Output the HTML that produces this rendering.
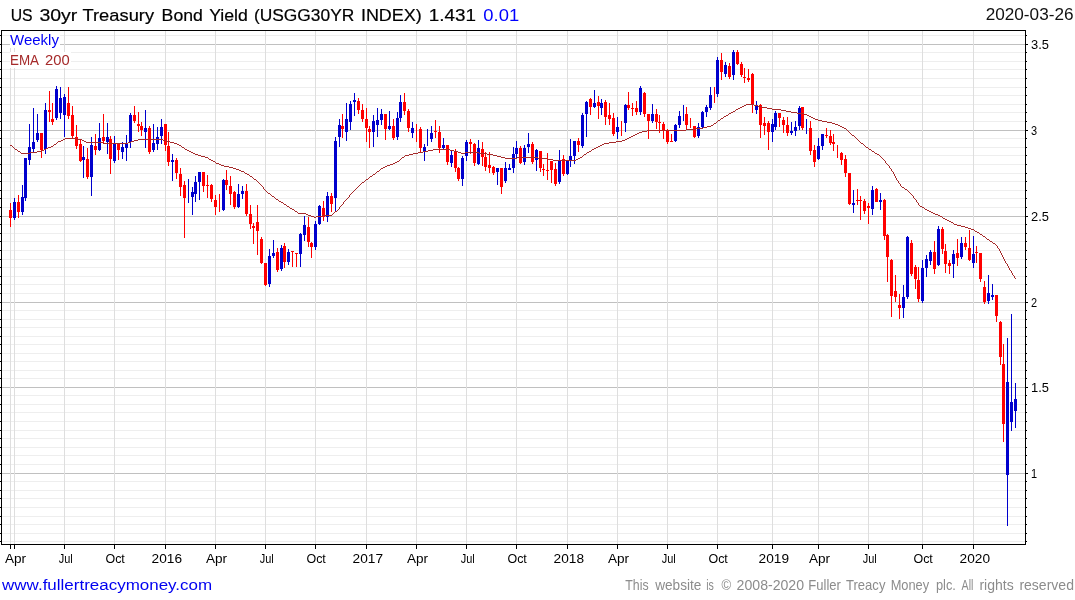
<!DOCTYPE html>
<html><head><meta charset="utf-8"><title>chart</title>
<style>
html,body{margin:0;padding:0;background:#fff;}
body{width:1075px;height:600px;position:relative;overflow:hidden;font-family:"Liberation Sans",sans-serif;}
svg{position:absolute;left:0;top:0;will-change:transform;}
svg line,svg rect{shape-rendering:crispEdges;}
svg text{font-family:"Liberation Sans",sans-serif;white-space:pre;}
</style></head><body>
<svg width="1075" height="600" viewBox="0 0 1075 600">
<line x1="2" x2="1025" y1="35.5" y2="35.5" stroke="#eeeeee" stroke-width="1"/>
<line x1="0" x2="1" y1="35.5" y2="35.5" stroke="#000" stroke-width="1"/>
<line x1="1026" x2="1027" y1="35.5" y2="35.5" stroke="#000" stroke-width="1"/>
<line x1="2" x2="1025" y1="44.5" y2="44.5" stroke="#c0c0c0" stroke-width="1"/>
<line x1="0" x2="1" y1="44.5" y2="44.5" stroke="#000" stroke-width="1"/>
<line x1="1026" x2="1028" y1="44.5" y2="44.5" stroke="#000" stroke-width="1"/>
<line x1="2" x2="1025" y1="52.5" y2="52.5" stroke="#eeeeee" stroke-width="1"/>
<line x1="0" x2="1" y1="52.5" y2="52.5" stroke="#000" stroke-width="1"/>
<line x1="1026" x2="1027" y1="52.5" y2="52.5" stroke="#000" stroke-width="1"/>
<line x1="2" x2="1025" y1="61.5" y2="61.5" stroke="#eeeeee" stroke-width="1"/>
<line x1="0" x2="1" y1="61.5" y2="61.5" stroke="#000" stroke-width="1"/>
<line x1="1026" x2="1027" y1="61.5" y2="61.5" stroke="#000" stroke-width="1"/>
<line x1="2" x2="1025" y1="69.5" y2="69.5" stroke="#eeeeee" stroke-width="1"/>
<line x1="0" x2="1" y1="69.5" y2="69.5" stroke="#000" stroke-width="1"/>
<line x1="1026" x2="1027" y1="69.5" y2="69.5" stroke="#000" stroke-width="1"/>
<line x1="2" x2="1025" y1="78.5" y2="78.5" stroke="#eeeeee" stroke-width="1"/>
<line x1="0" x2="1" y1="78.5" y2="78.5" stroke="#000" stroke-width="1"/>
<line x1="1026" x2="1027" y1="78.5" y2="78.5" stroke="#000" stroke-width="1"/>
<line x1="2" x2="1025" y1="87.5" y2="87.5" stroke="#eeeeee" stroke-width="1"/>
<line x1="0" x2="1" y1="87.5" y2="87.5" stroke="#000" stroke-width="1"/>
<line x1="1026" x2="1027" y1="87.5" y2="87.5" stroke="#000" stroke-width="1"/>
<line x1="2" x2="1025" y1="95.5" y2="95.5" stroke="#eeeeee" stroke-width="1"/>
<line x1="0" x2="1" y1="95.5" y2="95.5" stroke="#000" stroke-width="1"/>
<line x1="1026" x2="1027" y1="95.5" y2="95.5" stroke="#000" stroke-width="1"/>
<line x1="2" x2="1025" y1="104.5" y2="104.5" stroke="#eeeeee" stroke-width="1"/>
<line x1="0" x2="1" y1="104.5" y2="104.5" stroke="#000" stroke-width="1"/>
<line x1="1026" x2="1027" y1="104.5" y2="104.5" stroke="#000" stroke-width="1"/>
<line x1="2" x2="1025" y1="112.5" y2="112.5" stroke="#eeeeee" stroke-width="1"/>
<line x1="0" x2="1" y1="112.5" y2="112.5" stroke="#000" stroke-width="1"/>
<line x1="1026" x2="1027" y1="112.5" y2="112.5" stroke="#000" stroke-width="1"/>
<line x1="2" x2="1025" y1="121.5" y2="121.5" stroke="#eeeeee" stroke-width="1"/>
<line x1="0" x2="1" y1="121.5" y2="121.5" stroke="#000" stroke-width="1"/>
<line x1="1026" x2="1027" y1="121.5" y2="121.5" stroke="#000" stroke-width="1"/>
<line x1="2" x2="1025" y1="130.5" y2="130.5" stroke="#c0c0c0" stroke-width="1"/>
<line x1="0" x2="1" y1="130.5" y2="130.5" stroke="#000" stroke-width="1"/>
<line x1="1026" x2="1028" y1="130.5" y2="130.5" stroke="#000" stroke-width="1"/>
<line x1="2" x2="1025" y1="138.5" y2="138.5" stroke="#eeeeee" stroke-width="1"/>
<line x1="0" x2="1" y1="138.5" y2="138.5" stroke="#000" stroke-width="1"/>
<line x1="1026" x2="1027" y1="138.5" y2="138.5" stroke="#000" stroke-width="1"/>
<line x1="2" x2="1025" y1="147.5" y2="147.5" stroke="#eeeeee" stroke-width="1"/>
<line x1="0" x2="1" y1="147.5" y2="147.5" stroke="#000" stroke-width="1"/>
<line x1="1026" x2="1027" y1="147.5" y2="147.5" stroke="#000" stroke-width="1"/>
<line x1="2" x2="1025" y1="155.5" y2="155.5" stroke="#eeeeee" stroke-width="1"/>
<line x1="0" x2="1" y1="155.5" y2="155.5" stroke="#000" stroke-width="1"/>
<line x1="1026" x2="1027" y1="155.5" y2="155.5" stroke="#000" stroke-width="1"/>
<line x1="2" x2="1025" y1="164.5" y2="164.5" stroke="#eeeeee" stroke-width="1"/>
<line x1="0" x2="1" y1="164.5" y2="164.5" stroke="#000" stroke-width="1"/>
<line x1="1026" x2="1027" y1="164.5" y2="164.5" stroke="#000" stroke-width="1"/>
<line x1="2" x2="1025" y1="173.5" y2="173.5" stroke="#eeeeee" stroke-width="1"/>
<line x1="0" x2="1" y1="173.5" y2="173.5" stroke="#000" stroke-width="1"/>
<line x1="1026" x2="1027" y1="173.5" y2="173.5" stroke="#000" stroke-width="1"/>
<line x1="2" x2="1025" y1="181.5" y2="181.5" stroke="#eeeeee" stroke-width="1"/>
<line x1="0" x2="1" y1="181.5" y2="181.5" stroke="#000" stroke-width="1"/>
<line x1="1026" x2="1027" y1="181.5" y2="181.5" stroke="#000" stroke-width="1"/>
<line x1="2" x2="1025" y1="190.5" y2="190.5" stroke="#eeeeee" stroke-width="1"/>
<line x1="0" x2="1" y1="190.5" y2="190.5" stroke="#000" stroke-width="1"/>
<line x1="1026" x2="1027" y1="190.5" y2="190.5" stroke="#000" stroke-width="1"/>
<line x1="2" x2="1025" y1="198.5" y2="198.5" stroke="#eeeeee" stroke-width="1"/>
<line x1="0" x2="1" y1="198.5" y2="198.5" stroke="#000" stroke-width="1"/>
<line x1="1026" x2="1027" y1="198.5" y2="198.5" stroke="#000" stroke-width="1"/>
<line x1="2" x2="1025" y1="207.5" y2="207.5" stroke="#eeeeee" stroke-width="1"/>
<line x1="0" x2="1" y1="207.5" y2="207.5" stroke="#000" stroke-width="1"/>
<line x1="1026" x2="1027" y1="207.5" y2="207.5" stroke="#000" stroke-width="1"/>
<line x1="2" x2="1025" y1="216.5" y2="216.5" stroke="#c0c0c0" stroke-width="1"/>
<line x1="0" x2="1" y1="216.5" y2="216.5" stroke="#000" stroke-width="1"/>
<line x1="1026" x2="1028" y1="216.5" y2="216.5" stroke="#000" stroke-width="1"/>
<line x1="2" x2="1025" y1="224.5" y2="224.5" stroke="#eeeeee" stroke-width="1"/>
<line x1="0" x2="1" y1="224.5" y2="224.5" stroke="#000" stroke-width="1"/>
<line x1="1026" x2="1027" y1="224.5" y2="224.5" stroke="#000" stroke-width="1"/>
<line x1="2" x2="1025" y1="233.5" y2="233.5" stroke="#eeeeee" stroke-width="1"/>
<line x1="0" x2="1" y1="233.5" y2="233.5" stroke="#000" stroke-width="1"/>
<line x1="1026" x2="1027" y1="233.5" y2="233.5" stroke="#000" stroke-width="1"/>
<line x1="2" x2="1025" y1="241.5" y2="241.5" stroke="#eeeeee" stroke-width="1"/>
<line x1="0" x2="1" y1="241.5" y2="241.5" stroke="#000" stroke-width="1"/>
<line x1="1026" x2="1027" y1="241.5" y2="241.5" stroke="#000" stroke-width="1"/>
<line x1="2" x2="1025" y1="250.5" y2="250.5" stroke="#eeeeee" stroke-width="1"/>
<line x1="0" x2="1" y1="250.5" y2="250.5" stroke="#000" stroke-width="1"/>
<line x1="1026" x2="1027" y1="250.5" y2="250.5" stroke="#000" stroke-width="1"/>
<line x1="2" x2="1025" y1="259.5" y2="259.5" stroke="#eeeeee" stroke-width="1"/>
<line x1="0" x2="1" y1="259.5" y2="259.5" stroke="#000" stroke-width="1"/>
<line x1="1026" x2="1027" y1="259.5" y2="259.5" stroke="#000" stroke-width="1"/>
<line x1="2" x2="1025" y1="267.5" y2="267.5" stroke="#eeeeee" stroke-width="1"/>
<line x1="0" x2="1" y1="267.5" y2="267.5" stroke="#000" stroke-width="1"/>
<line x1="1026" x2="1027" y1="267.5" y2="267.5" stroke="#000" stroke-width="1"/>
<line x1="2" x2="1025" y1="276.5" y2="276.5" stroke="#eeeeee" stroke-width="1"/>
<line x1="0" x2="1" y1="276.5" y2="276.5" stroke="#000" stroke-width="1"/>
<line x1="1026" x2="1027" y1="276.5" y2="276.5" stroke="#000" stroke-width="1"/>
<line x1="2" x2="1025" y1="284.5" y2="284.5" stroke="#eeeeee" stroke-width="1"/>
<line x1="0" x2="1" y1="284.5" y2="284.5" stroke="#000" stroke-width="1"/>
<line x1="1026" x2="1027" y1="284.5" y2="284.5" stroke="#000" stroke-width="1"/>
<line x1="2" x2="1025" y1="293.5" y2="293.5" stroke="#eeeeee" stroke-width="1"/>
<line x1="0" x2="1" y1="293.5" y2="293.5" stroke="#000" stroke-width="1"/>
<line x1="1026" x2="1027" y1="293.5" y2="293.5" stroke="#000" stroke-width="1"/>
<line x1="2" x2="1025" y1="302.5" y2="302.5" stroke="#c0c0c0" stroke-width="1"/>
<line x1="0" x2="1" y1="302.5" y2="302.5" stroke="#000" stroke-width="1"/>
<line x1="1026" x2="1028" y1="302.5" y2="302.5" stroke="#000" stroke-width="1"/>
<line x1="2" x2="1025" y1="310.5" y2="310.5" stroke="#eeeeee" stroke-width="1"/>
<line x1="0" x2="1" y1="310.5" y2="310.5" stroke="#000" stroke-width="1"/>
<line x1="1026" x2="1027" y1="310.5" y2="310.5" stroke="#000" stroke-width="1"/>
<line x1="2" x2="1025" y1="319.5" y2="319.5" stroke="#eeeeee" stroke-width="1"/>
<line x1="0" x2="1" y1="319.5" y2="319.5" stroke="#000" stroke-width="1"/>
<line x1="1026" x2="1027" y1="319.5" y2="319.5" stroke="#000" stroke-width="1"/>
<line x1="2" x2="1025" y1="327.5" y2="327.5" stroke="#eeeeee" stroke-width="1"/>
<line x1="0" x2="1" y1="327.5" y2="327.5" stroke="#000" stroke-width="1"/>
<line x1="1026" x2="1027" y1="327.5" y2="327.5" stroke="#000" stroke-width="1"/>
<line x1="2" x2="1025" y1="336.5" y2="336.5" stroke="#eeeeee" stroke-width="1"/>
<line x1="0" x2="1" y1="336.5" y2="336.5" stroke="#000" stroke-width="1"/>
<line x1="1026" x2="1027" y1="336.5" y2="336.5" stroke="#000" stroke-width="1"/>
<line x1="2" x2="1025" y1="344.5" y2="344.5" stroke="#eeeeee" stroke-width="1"/>
<line x1="0" x2="1" y1="344.5" y2="344.5" stroke="#000" stroke-width="1"/>
<line x1="1026" x2="1027" y1="344.5" y2="344.5" stroke="#000" stroke-width="1"/>
<line x1="2" x2="1025" y1="353.5" y2="353.5" stroke="#eeeeee" stroke-width="1"/>
<line x1="0" x2="1" y1="353.5" y2="353.5" stroke="#000" stroke-width="1"/>
<line x1="1026" x2="1027" y1="353.5" y2="353.5" stroke="#000" stroke-width="1"/>
<line x1="2" x2="1025" y1="361.5" y2="361.5" stroke="#eeeeee" stroke-width="1"/>
<line x1="0" x2="1" y1="361.5" y2="361.5" stroke="#000" stroke-width="1"/>
<line x1="1026" x2="1027" y1="361.5" y2="361.5" stroke="#000" stroke-width="1"/>
<line x1="2" x2="1025" y1="370.5" y2="370.5" stroke="#eeeeee" stroke-width="1"/>
<line x1="0" x2="1" y1="370.5" y2="370.5" stroke="#000" stroke-width="1"/>
<line x1="1026" x2="1027" y1="370.5" y2="370.5" stroke="#000" stroke-width="1"/>
<line x1="2" x2="1025" y1="378.5" y2="378.5" stroke="#eeeeee" stroke-width="1"/>
<line x1="0" x2="1" y1="378.5" y2="378.5" stroke="#000" stroke-width="1"/>
<line x1="1026" x2="1027" y1="378.5" y2="378.5" stroke="#000" stroke-width="1"/>
<line x1="2" x2="1025" y1="387.5" y2="387.5" stroke="#c0c0c0" stroke-width="1"/>
<line x1="0" x2="1" y1="387.5" y2="387.5" stroke="#000" stroke-width="1"/>
<line x1="1026" x2="1028" y1="387.5" y2="387.5" stroke="#000" stroke-width="1"/>
<line x1="2" x2="1025" y1="395.5" y2="395.5" stroke="#eeeeee" stroke-width="1"/>
<line x1="0" x2="1" y1="395.5" y2="395.5" stroke="#000" stroke-width="1"/>
<line x1="1026" x2="1027" y1="395.5" y2="395.5" stroke="#000" stroke-width="1"/>
<line x1="2" x2="1025" y1="404.5" y2="404.5" stroke="#eeeeee" stroke-width="1"/>
<line x1="0" x2="1" y1="404.5" y2="404.5" stroke="#000" stroke-width="1"/>
<line x1="1026" x2="1027" y1="404.5" y2="404.5" stroke="#000" stroke-width="1"/>
<line x1="2" x2="1025" y1="412.5" y2="412.5" stroke="#eeeeee" stroke-width="1"/>
<line x1="0" x2="1" y1="412.5" y2="412.5" stroke="#000" stroke-width="1"/>
<line x1="1026" x2="1027" y1="412.5" y2="412.5" stroke="#000" stroke-width="1"/>
<line x1="2" x2="1025" y1="421.5" y2="421.5" stroke="#eeeeee" stroke-width="1"/>
<line x1="0" x2="1" y1="421.5" y2="421.5" stroke="#000" stroke-width="1"/>
<line x1="1026" x2="1027" y1="421.5" y2="421.5" stroke="#000" stroke-width="1"/>
<line x1="2" x2="1025" y1="430.5" y2="430.5" stroke="#eeeeee" stroke-width="1"/>
<line x1="0" x2="1" y1="430.5" y2="430.5" stroke="#000" stroke-width="1"/>
<line x1="1026" x2="1027" y1="430.5" y2="430.5" stroke="#000" stroke-width="1"/>
<line x1="2" x2="1025" y1="438.5" y2="438.5" stroke="#eeeeee" stroke-width="1"/>
<line x1="0" x2="1" y1="438.5" y2="438.5" stroke="#000" stroke-width="1"/>
<line x1="1026" x2="1027" y1="438.5" y2="438.5" stroke="#000" stroke-width="1"/>
<line x1="2" x2="1025" y1="447.5" y2="447.5" stroke="#eeeeee" stroke-width="1"/>
<line x1="0" x2="1" y1="447.5" y2="447.5" stroke="#000" stroke-width="1"/>
<line x1="1026" x2="1027" y1="447.5" y2="447.5" stroke="#000" stroke-width="1"/>
<line x1="2" x2="1025" y1="455.5" y2="455.5" stroke="#eeeeee" stroke-width="1"/>
<line x1="0" x2="1" y1="455.5" y2="455.5" stroke="#000" stroke-width="1"/>
<line x1="1026" x2="1027" y1="455.5" y2="455.5" stroke="#000" stroke-width="1"/>
<line x1="2" x2="1025" y1="464.5" y2="464.5" stroke="#eeeeee" stroke-width="1"/>
<line x1="0" x2="1" y1="464.5" y2="464.5" stroke="#000" stroke-width="1"/>
<line x1="1026" x2="1027" y1="464.5" y2="464.5" stroke="#000" stroke-width="1"/>
<line x1="2" x2="1025" y1="473.5" y2="473.5" stroke="#c0c0c0" stroke-width="1"/>
<line x1="0" x2="1" y1="473.5" y2="473.5" stroke="#000" stroke-width="1"/>
<line x1="1026" x2="1028" y1="473.5" y2="473.5" stroke="#000" stroke-width="1"/>
<line x1="2" x2="1025" y1="481.5" y2="481.5" stroke="#eeeeee" stroke-width="1"/>
<line x1="0" x2="1" y1="481.5" y2="481.5" stroke="#000" stroke-width="1"/>
<line x1="1026" x2="1027" y1="481.5" y2="481.5" stroke="#000" stroke-width="1"/>
<line x1="2" x2="1025" y1="490.5" y2="490.5" stroke="#eeeeee" stroke-width="1"/>
<line x1="0" x2="1" y1="490.5" y2="490.5" stroke="#000" stroke-width="1"/>
<line x1="1026" x2="1027" y1="490.5" y2="490.5" stroke="#000" stroke-width="1"/>
<line x1="2" x2="1025" y1="498.5" y2="498.5" stroke="#eeeeee" stroke-width="1"/>
<line x1="0" x2="1" y1="498.5" y2="498.5" stroke="#000" stroke-width="1"/>
<line x1="1026" x2="1027" y1="498.5" y2="498.5" stroke="#000" stroke-width="1"/>
<line x1="2" x2="1025" y1="507.5" y2="507.5" stroke="#eeeeee" stroke-width="1"/>
<line x1="0" x2="1" y1="507.5" y2="507.5" stroke="#000" stroke-width="1"/>
<line x1="1026" x2="1027" y1="507.5" y2="507.5" stroke="#000" stroke-width="1"/>
<line x1="2" x2="1025" y1="516.5" y2="516.5" stroke="#eeeeee" stroke-width="1"/>
<line x1="0" x2="1" y1="516.5" y2="516.5" stroke="#000" stroke-width="1"/>
<line x1="1026" x2="1027" y1="516.5" y2="516.5" stroke="#000" stroke-width="1"/>
<line x1="2" x2="1025" y1="524.5" y2="524.5" stroke="#eeeeee" stroke-width="1"/>
<line x1="0" x2="1" y1="524.5" y2="524.5" stroke="#000" stroke-width="1"/>
<line x1="1026" x2="1027" y1="524.5" y2="524.5" stroke="#000" stroke-width="1"/>
<line x1="2" x2="1025" y1="533.5" y2="533.5" stroke="#eeeeee" stroke-width="1"/>
<line x1="0" x2="1" y1="533.5" y2="533.5" stroke="#000" stroke-width="1"/>
<line x1="1026" x2="1027" y1="533.5" y2="533.5" stroke="#000" stroke-width="1"/>
<line x1="2" x2="1025" y1="541.5" y2="541.5" stroke="#eeeeee" stroke-width="1"/>
<line x1="0" x2="1" y1="541.5" y2="541.5" stroke="#000" stroke-width="1"/>
<line x1="1026" x2="1027" y1="541.5" y2="541.5" stroke="#000" stroke-width="1"/>
<line x1="10.5" x2="10.5" y1="31" y2="544" stroke="#dedede" stroke-width="1"/>
<line x1="10.5" x2="10.5" y1="544" y2="549" stroke="#000" stroke-width="1"/>
<line x1="14.5" x2="14.5" y1="31" y2="544" stroke="#dedede" stroke-width="1"/>
<line x1="14.5" x2="14.5" y1="544" y2="549" stroke="#000" stroke-width="1"/>
<line x1="64.5" x2="64.5" y1="31" y2="544" stroke="#dedede" stroke-width="1"/>
<line x1="64.5" x2="64.5" y1="544" y2="549" stroke="#000" stroke-width="1"/>
<line x1="114.5" x2="114.5" y1="31" y2="544" stroke="#dedede" stroke-width="1"/>
<line x1="114.5" x2="114.5" y1="544" y2="549" stroke="#000" stroke-width="1"/>
<line x1="165.5" x2="165.5" y1="31" y2="544" stroke="#dedede" stroke-width="1"/>
<line x1="165.5" x2="165.5" y1="544" y2="549" stroke="#000" stroke-width="1"/>
<line x1="215.5" x2="215.5" y1="31" y2="544" stroke="#dedede" stroke-width="1"/>
<line x1="215.5" x2="215.5" y1="544" y2="549" stroke="#000" stroke-width="1"/>
<line x1="265.5" x2="265.5" y1="31" y2="544" stroke="#dedede" stroke-width="1"/>
<line x1="265.5" x2="265.5" y1="544" y2="549" stroke="#000" stroke-width="1"/>
<line x1="315.5" x2="315.5" y1="31" y2="544" stroke="#dedede" stroke-width="1"/>
<line x1="315.5" x2="315.5" y1="544" y2="549" stroke="#000" stroke-width="1"/>
<line x1="366.5" x2="366.5" y1="31" y2="544" stroke="#dedede" stroke-width="1"/>
<line x1="366.5" x2="366.5" y1="544" y2="549" stroke="#000" stroke-width="1"/>
<line x1="416.5" x2="416.5" y1="31" y2="544" stroke="#dedede" stroke-width="1"/>
<line x1="416.5" x2="416.5" y1="544" y2="549" stroke="#000" stroke-width="1"/>
<line x1="466.5" x2="466.5" y1="31" y2="544" stroke="#dedede" stroke-width="1"/>
<line x1="466.5" x2="466.5" y1="544" y2="549" stroke="#000" stroke-width="1"/>
<line x1="516.5" x2="516.5" y1="31" y2="544" stroke="#dedede" stroke-width="1"/>
<line x1="516.5" x2="516.5" y1="544" y2="549" stroke="#000" stroke-width="1"/>
<line x1="567.5" x2="567.5" y1="31" y2="544" stroke="#dedede" stroke-width="1"/>
<line x1="567.5" x2="567.5" y1="544" y2="549" stroke="#000" stroke-width="1"/>
<line x1="617.5" x2="617.5" y1="31" y2="544" stroke="#dedede" stroke-width="1"/>
<line x1="617.5" x2="617.5" y1="544" y2="549" stroke="#000" stroke-width="1"/>
<line x1="667.5" x2="667.5" y1="31" y2="544" stroke="#dedede" stroke-width="1"/>
<line x1="667.5" x2="667.5" y1="544" y2="549" stroke="#000" stroke-width="1"/>
<line x1="717.5" x2="717.5" y1="31" y2="544" stroke="#dedede" stroke-width="1"/>
<line x1="717.5" x2="717.5" y1="544" y2="549" stroke="#000" stroke-width="1"/>
<line x1="772.5" x2="772.5" y1="31" y2="544" stroke="#dedede" stroke-width="1"/>
<line x1="772.5" x2="772.5" y1="544" y2="549" stroke="#000" stroke-width="1"/>
<line x1="818.5" x2="818.5" y1="31" y2="544" stroke="#dedede" stroke-width="1"/>
<line x1="818.5" x2="818.5" y1="544" y2="549" stroke="#000" stroke-width="1"/>
<line x1="868.5" x2="868.5" y1="31" y2="544" stroke="#dedede" stroke-width="1"/>
<line x1="868.5" x2="868.5" y1="544" y2="549" stroke="#000" stroke-width="1"/>
<line x1="922.5" x2="922.5" y1="31" y2="544" stroke="#dedede" stroke-width="1"/>
<line x1="922.5" x2="922.5" y1="544" y2="549" stroke="#000" stroke-width="1"/>
<line x1="973.5" x2="973.5" y1="31" y2="544" stroke="#dedede" stroke-width="1"/>
<line x1="973.5" x2="973.5" y1="544" y2="549" stroke="#000" stroke-width="1"/>
<rect x="10" y="203" width="1" height="24" fill="#ff0000"/>
<rect x="9" y="210" width="3" height="8" fill="#ff0000"/>
<rect x="14" y="198" width="1" height="22" fill="#0000cd"/>
<rect x="13" y="202" width="3" height="16" fill="#0000cd"/>
<rect x="18" y="195" width="1" height="23" fill="#ff0000"/>
<rect x="17" y="202" width="3" height="10" fill="#ff0000"/>
<rect x="22" y="185" width="1" height="30" fill="#0000cd"/>
<rect x="21" y="197" width="3" height="15" fill="#0000cd"/>
<rect x="25" y="158" width="1" height="43" fill="#0000cd"/>
<rect x="24" y="158" width="3" height="40" fill="#0000cd"/>
<rect x="29" y="124" width="1" height="41" fill="#0000cd"/>
<rect x="28" y="147" width="3" height="13" fill="#0000cd"/>
<rect x="33" y="108" width="1" height="44" fill="#0000cd"/>
<rect x="32" y="142" width="3" height="7" fill="#0000cd"/>
<rect x="37" y="114" width="1" height="28" fill="#0000cd"/>
<rect x="36" y="133" width="3" height="7" fill="#0000cd"/>
<rect x="41" y="133" width="1" height="25" fill="#ff0000"/>
<rect x="40" y="133" width="3" height="17" fill="#ff0000"/>
<rect x="45" y="103" width="1" height="51" fill="#0000cd"/>
<rect x="44" y="110" width="3" height="39" fill="#0000cd"/>
<rect x="49" y="91" width="1" height="31" fill="#ff0000"/>
<rect x="48" y="110" width="3" height="2" fill="#ff0000"/>
<rect x="52" y="103" width="1" height="22" fill="#ff0000"/>
<rect x="51" y="119" width="3" height="3" fill="#ff0000"/>
<rect x="56" y="86" width="1" height="34" fill="#0000cd"/>
<rect x="55" y="89" width="3" height="29" fill="#0000cd"/>
<rect x="60" y="87" width="1" height="32" fill="#0000cd"/>
<rect x="59" y="98" width="3" height="15" fill="#0000cd"/>
<rect x="64" y="94" width="1" height="43" fill="#0000cd"/>
<rect x="63" y="97" width="3" height="18" fill="#0000cd"/>
<rect x="68" y="87" width="1" height="32" fill="#ff0000"/>
<rect x="67" y="103" width="3" height="13" fill="#ff0000"/>
<rect x="72" y="106" width="1" height="33" fill="#ff0000"/>
<rect x="71" y="115" width="3" height="21" fill="#ff0000"/>
<rect x="76" y="125" width="1" height="24" fill="#ff0000"/>
<rect x="75" y="137" width="3" height="9" fill="#ff0000"/>
<rect x="80" y="139" width="1" height="23" fill="#ff0000"/>
<rect x="79" y="144" width="3" height="17" fill="#ff0000"/>
<rect x="83" y="146" width="1" height="32" fill="#0000cd"/>
<rect x="82" y="157" width="3" height="3" fill="#0000cd"/>
<rect x="87" y="148" width="1" height="31" fill="#ff0000"/>
<rect x="86" y="159" width="3" height="18" fill="#ff0000"/>
<rect x="91" y="137" width="1" height="59" fill="#0000cd"/>
<rect x="90" y="145" width="3" height="32" fill="#0000cd"/>
<rect x="95" y="134" width="1" height="21" fill="#ff0000"/>
<rect x="94" y="146" width="3" height="4" fill="#ff0000"/>
<rect x="99" y="123" width="1" height="28" fill="#0000cd"/>
<rect x="98" y="138" width="3" height="12" fill="#0000cd"/>
<rect x="103" y="114" width="1" height="30" fill="#ff0000"/>
<rect x="102" y="137" width="3" height="4" fill="#ff0000"/>
<rect x="107" y="123" width="1" height="31" fill="#0000cd"/>
<rect x="106" y="137" width="3" height="5" fill="#0000cd"/>
<rect x="110" y="136" width="1" height="38" fill="#ff0000"/>
<rect x="109" y="139" width="3" height="20" fill="#ff0000"/>
<rect x="114" y="136" width="1" height="27" fill="#0000cd"/>
<rect x="113" y="144" width="3" height="17" fill="#0000cd"/>
<rect x="118" y="143" width="1" height="17" fill="#ff0000"/>
<rect x="117" y="144" width="3" height="6" fill="#ff0000"/>
<rect x="122" y="142" width="1" height="17" fill="#0000cd"/>
<rect x="121" y="147" width="3" height="5" fill="#0000cd"/>
<rect x="126" y="135" width="1" height="26" fill="#0000cd"/>
<rect x="125" y="144" width="3" height="4" fill="#0000cd"/>
<rect x="130" y="113" width="1" height="35" fill="#0000cd"/>
<rect x="129" y="115" width="3" height="27" fill="#0000cd"/>
<rect x="134" y="106" width="1" height="17" fill="#ff0000"/>
<rect x="133" y="115" width="3" height="6" fill="#ff0000"/>
<rect x="138" y="112" width="1" height="20" fill="#ff0000"/>
<rect x="137" y="124" width="3" height="2" fill="#ff0000"/>
<rect x="141" y="122" width="1" height="14" fill="#ff0000"/>
<rect x="140" y="126" width="3" height="4" fill="#ff0000"/>
<rect x="145" y="110" width="1" height="38" fill="#0000cd"/>
<rect x="144" y="128" width="3" height="4" fill="#0000cd"/>
<rect x="149" y="126" width="1" height="28" fill="#ff0000"/>
<rect x="148" y="128" width="3" height="24" fill="#ff0000"/>
<rect x="153" y="124" width="1" height="28" fill="#0000cd"/>
<rect x="152" y="143" width="3" height="7" fill="#0000cd"/>
<rect x="157" y="127" width="1" height="23" fill="#0000cd"/>
<rect x="156" y="137" width="3" height="7" fill="#0000cd"/>
<rect x="161" y="119" width="1" height="25" fill="#0000cd"/>
<rect x="160" y="127" width="3" height="9" fill="#0000cd"/>
<rect x="165" y="124" width="1" height="27" fill="#ff0000"/>
<rect x="164" y="124" width="3" height="21" fill="#ff0000"/>
<rect x="168" y="132" width="1" height="34" fill="#ff0000"/>
<rect x="167" y="146" width="3" height="16" fill="#ff0000"/>
<rect x="172" y="154" width="1" height="27" fill="#0000cd"/>
<rect x="171" y="160" width="3" height="2" fill="#0000cd"/>
<rect x="176" y="158" width="1" height="21" fill="#ff0000"/>
<rect x="175" y="160" width="3" height="13" fill="#ff0000"/>
<rect x="180" y="168" width="1" height="28" fill="#ff0000"/>
<rect x="179" y="174" width="3" height="13" fill="#ff0000"/>
<rect x="184" y="181" width="1" height="57" fill="#ff0000"/>
<rect x="183" y="185" width="3" height="13" fill="#ff0000"/>
<rect x="188" y="179" width="1" height="24" fill="#0000cd"/>
<rect x="192" y="187" width="1" height="28" fill="#0000cd"/>
<rect x="191" y="192" width="3" height="5" fill="#0000cd"/>
<rect x="195" y="176" width="1" height="26" fill="#0000cd"/>
<rect x="194" y="182" width="3" height="12" fill="#0000cd"/>
<rect x="199" y="172" width="1" height="28" fill="#0000cd"/>
<rect x="198" y="172" width="3" height="10" fill="#0000cd"/>
<rect x="203" y="172" width="1" height="20" fill="#ff0000"/>
<rect x="202" y="172" width="3" height="14" fill="#ff0000"/>
<rect x="207" y="175" width="1" height="23" fill="#ff0000"/>
<rect x="206" y="185" width="3" height="1" fill="#ff0000"/>
<rect x="211" y="184" width="1" height="18" fill="#ff0000"/>
<rect x="210" y="185" width="3" height="14" fill="#ff0000"/>
<rect x="215" y="195" width="1" height="20" fill="#ff0000"/>
<rect x="214" y="200" width="3" height="7" fill="#ff0000"/>
<rect x="219" y="194" width="1" height="18" fill="#ff0000"/>
<rect x="223" y="179" width="1" height="32" fill="#0000cd"/>
<rect x="222" y="180" width="3" height="30" fill="#0000cd"/>
<rect x="226" y="170" width="1" height="20" fill="#ff0000"/>
<rect x="225" y="180" width="3" height="5" fill="#ff0000"/>
<rect x="230" y="176" width="1" height="29" fill="#ff0000"/>
<rect x="229" y="186" width="3" height="8" fill="#ff0000"/>
<rect x="234" y="191" width="1" height="18" fill="#ff0000"/>
<rect x="233" y="192" width="3" height="15" fill="#ff0000"/>
<rect x="238" y="184" width="1" height="24" fill="#0000cd"/>
<rect x="237" y="194" width="3" height="13" fill="#0000cd"/>
<rect x="242" y="186" width="1" height="13" fill="#0000cd"/>
<rect x="241" y="191" width="3" height="3" fill="#0000cd"/>
<rect x="246" y="184" width="1" height="32" fill="#ff0000"/>
<rect x="245" y="191" width="3" height="23" fill="#ff0000"/>
<rect x="250" y="205" width="1" height="24" fill="#ff0000"/>
<rect x="249" y="214" width="3" height="10" fill="#ff0000"/>
<rect x="253" y="223" width="1" height="21" fill="#ff0000"/>
<rect x="252" y="226" width="3" height="2" fill="#ff0000"/>
<rect x="257" y="205" width="1" height="50" fill="#ff0000"/>
<rect x="256" y="222" width="3" height="9" fill="#ff0000"/>
<rect x="261" y="237" width="1" height="27" fill="#ff0000"/>
<rect x="260" y="239" width="3" height="24" fill="#ff0000"/>
<rect x="265" y="263" width="1" height="23" fill="#ff0000"/>
<rect x="264" y="263" width="3" height="22" fill="#ff0000"/>
<rect x="269" y="249" width="1" height="38" fill="#0000cd"/>
<rect x="268" y="256" width="3" height="28" fill="#0000cd"/>
<rect x="273" y="240" width="1" height="18" fill="#0000cd"/>
<rect x="272" y="253" width="3" height="3" fill="#0000cd"/>
<rect x="277" y="248" width="1" height="24" fill="#ff0000"/>
<rect x="276" y="252" width="3" height="18" fill="#ff0000"/>
<rect x="281" y="245" width="1" height="26" fill="#0000cd"/>
<rect x="280" y="248" width="3" height="21" fill="#0000cd"/>
<rect x="284" y="243" width="1" height="25" fill="#ff0000"/>
<rect x="283" y="246" width="3" height="16" fill="#ff0000"/>
<rect x="288" y="249" width="1" height="16" fill="#0000cd"/>
<rect x="287" y="252" width="3" height="10" fill="#0000cd"/>
<rect x="292" y="251" width="1" height="16" fill="#ff0000"/>
<rect x="291" y="251" width="3" height="1" fill="#ff0000"/>
<rect x="296" y="253" width="1" height="14" fill="#ff0000"/>
<rect x="295" y="253" width="3" height="1" fill="#ff0000"/>
<rect x="300" y="233" width="1" height="34" fill="#0000cd"/>
<rect x="299" y="234" width="3" height="20" fill="#0000cd"/>
<rect x="304" y="216" width="1" height="25" fill="#0000cd"/>
<rect x="303" y="225" width="3" height="10" fill="#0000cd"/>
<rect x="308" y="217" width="1" height="30" fill="#ff0000"/>
<rect x="307" y="227" width="3" height="15" fill="#ff0000"/>
<rect x="311" y="242" width="1" height="16" fill="#ff0000"/>
<rect x="310" y="243" width="3" height="4" fill="#ff0000"/>
<rect x="315" y="221" width="1" height="29" fill="#0000cd"/>
<rect x="314" y="224" width="3" height="23" fill="#0000cd"/>
<rect x="319" y="205" width="1" height="20" fill="#0000cd"/>
<rect x="318" y="206" width="3" height="18" fill="#0000cd"/>
<rect x="323" y="201" width="1" height="20" fill="#ff0000"/>
<rect x="322" y="208" width="3" height="9" fill="#ff0000"/>
<rect x="327" y="192" width="1" height="30" fill="#0000cd"/>
<rect x="326" y="196" width="3" height="21" fill="#0000cd"/>
<rect x="331" y="193" width="1" height="19" fill="#ff0000"/>
<rect x="330" y="196" width="3" height="8" fill="#ff0000"/>
<rect x="335" y="137" width="1" height="74" fill="#0000cd"/>
<rect x="334" y="141" width="3" height="57" fill="#0000cd"/>
<rect x="339" y="119" width="1" height="28" fill="#0000cd"/>
<rect x="338" y="125" width="3" height="12" fill="#0000cd"/>
<rect x="342" y="114" width="1" height="24" fill="#ff0000"/>
<rect x="341" y="126" width="3" height="3" fill="#ff0000"/>
<rect x="346" y="103" width="1" height="38" fill="#0000cd"/>
<rect x="345" y="119" width="3" height="13" fill="#0000cd"/>
<rect x="350" y="101" width="1" height="29" fill="#0000cd"/>
<rect x="349" y="104" width="3" height="18" fill="#0000cd"/>
<rect x="354" y="93" width="1" height="23" fill="#0000cd"/>
<rect x="353" y="100" width="3" height="2" fill="#0000cd"/>
<rect x="358" y="98" width="1" height="16" fill="#ff0000"/>
<rect x="357" y="101" width="3" height="9" fill="#ff0000"/>
<rect x="362" y="104" width="1" height="18" fill="#ff0000"/>
<rect x="361" y="110" width="3" height="9" fill="#ff0000"/>
<rect x="366" y="108" width="1" height="34" fill="#ff0000"/>
<rect x="365" y="119" width="3" height="9" fill="#ff0000"/>
<rect x="369" y="126" width="1" height="22" fill="#ff0000"/>
<rect x="368" y="129" width="3" height="3" fill="#ff0000"/>
<rect x="373" y="115" width="1" height="32" fill="#0000cd"/>
<rect x="372" y="121" width="3" height="11" fill="#0000cd"/>
<rect x="377" y="108" width="1" height="29" fill="#0000cd"/>
<rect x="376" y="120" width="3" height="5" fill="#0000cd"/>
<rect x="381" y="109" width="1" height="16" fill="#0000cd"/>
<rect x="380" y="114" width="3" height="6" fill="#0000cd"/>
<rect x="385" y="114" width="1" height="26" fill="#ff0000"/>
<rect x="384" y="114" width="3" height="15" fill="#ff0000"/>
<rect x="389" y="111" width="1" height="19" fill="#0000cd"/>
<rect x="388" y="126" width="3" height="3" fill="#0000cd"/>
<rect x="393" y="119" width="1" height="21" fill="#ff0000"/>
<rect x="392" y="126" width="3" height="12" fill="#ff0000"/>
<rect x="397" y="112" width="1" height="28" fill="#0000cd"/>
<rect x="396" y="118" width="3" height="19" fill="#0000cd"/>
<rect x="400" y="95" width="1" height="27" fill="#0000cd"/>
<rect x="399" y="102" width="3" height="16" fill="#0000cd"/>
<rect x="404" y="93" width="1" height="22" fill="#ff0000"/>
<rect x="403" y="102" width="3" height="9" fill="#ff0000"/>
<rect x="408" y="109" width="1" height="23" fill="#ff0000"/>
<rect x="407" y="111" width="3" height="17" fill="#ff0000"/>
<rect x="412" y="122" width="1" height="16" fill="#0000cd"/>
<rect x="411" y="128" width="3" height="5" fill="#0000cd"/>
<rect x="416" y="124" width="1" height="18" fill="#ff0000"/>
<rect x="420" y="127" width="1" height="26" fill="#ff0000"/>
<rect x="419" y="129" width="3" height="19" fill="#ff0000"/>
<rect x="424" y="144" width="1" height="17" fill="#0000cd"/>
<rect x="423" y="147" width="3" height="5" fill="#0000cd"/>
<rect x="427" y="129" width="1" height="17" fill="#0000cd"/>
<rect x="431" y="126" width="1" height="16" fill="#0000cd"/>
<rect x="430" y="133" width="3" height="6" fill="#0000cd"/>
<rect x="435" y="120" width="1" height="18" fill="#ff0000"/>
<rect x="434" y="131" width="3" height="1" fill="#ff0000"/>
<rect x="439" y="126" width="1" height="27" fill="#ff0000"/>
<rect x="438" y="132" width="3" height="16" fill="#ff0000"/>
<rect x="443" y="138" width="1" height="11" fill="#0000cd"/>
<rect x="442" y="145" width="3" height="3" fill="#0000cd"/>
<rect x="447" y="145" width="1" height="20" fill="#ff0000"/>
<rect x="446" y="145" width="3" height="17" fill="#ff0000"/>
<rect x="451" y="151" width="1" height="16" fill="#0000cd"/>
<rect x="450" y="155" width="3" height="8" fill="#0000cd"/>
<rect x="455" y="149" width="1" height="23" fill="#ff0000"/>
<rect x="454" y="152" width="3" height="16" fill="#ff0000"/>
<rect x="458" y="167" width="1" height="14" fill="#ff0000"/>
<rect x="457" y="168" width="3" height="11" fill="#ff0000"/>
<rect x="462" y="156" width="1" height="30" fill="#0000cd"/>
<rect x="461" y="158" width="3" height="21" fill="#0000cd"/>
<rect x="466" y="140" width="1" height="21" fill="#0000cd"/>
<rect x="465" y="142" width="3" height="14" fill="#0000cd"/>
<rect x="470" y="139" width="1" height="15" fill="#ff0000"/>
<rect x="469" y="142" width="3" height="2" fill="#ff0000"/>
<rect x="474" y="143" width="1" height="23" fill="#ff0000"/>
<rect x="473" y="144" width="3" height="19" fill="#ff0000"/>
<rect x="478" y="140" width="1" height="25" fill="#0000cd"/>
<rect x="477" y="148" width="3" height="16" fill="#0000cd"/>
<rect x="482" y="142" width="1" height="24" fill="#ff0000"/>
<rect x="481" y="149" width="3" height="8" fill="#ff0000"/>
<rect x="485" y="152" width="1" height="19" fill="#ff0000"/>
<rect x="484" y="157" width="3" height="10" fill="#ff0000"/>
<rect x="489" y="152" width="1" height="21" fill="#ff0000"/>
<rect x="488" y="165" width="3" height="3" fill="#ff0000"/>
<rect x="493" y="166" width="1" height="9" fill="#ff0000"/>
<rect x="492" y="167" width="3" height="6" fill="#ff0000"/>
<rect x="497" y="168" width="1" height="17" fill="#0000cd"/>
<rect x="496" y="168" width="3" height="4" fill="#0000cd"/>
<rect x="501" y="168" width="1" height="26" fill="#ff0000"/>
<rect x="500" y="168" width="3" height="19" fill="#ff0000"/>
<rect x="505" y="162" width="1" height="21" fill="#0000cd"/>
<rect x="504" y="168" width="3" height="13" fill="#0000cd"/>
<rect x="509" y="164" width="1" height="6" fill="#0000cd"/>
<rect x="508" y="168" width="3" height="2" fill="#0000cd"/>
<rect x="513" y="147" width="1" height="26" fill="#0000cd"/>
<rect x="512" y="154" width="3" height="14" fill="#0000cd"/>
<rect x="516" y="141" width="1" height="17" fill="#0000cd"/>
<rect x="515" y="148" width="3" height="6" fill="#0000cd"/>
<rect x="520" y="146" width="1" height="18" fill="#ff0000"/>
<rect x="519" y="148" width="3" height="15" fill="#ff0000"/>
<rect x="524" y="145" width="1" height="20" fill="#0000cd"/>
<rect x="523" y="148" width="3" height="14" fill="#0000cd"/>
<rect x="528" y="133" width="1" height="20" fill="#0000cd"/>
<rect x="527" y="144" width="3" height="3" fill="#0000cd"/>
<rect x="532" y="142" width="1" height="22" fill="#ff0000"/>
<rect x="531" y="144" width="3" height="18" fill="#ff0000"/>
<rect x="536" y="149" width="1" height="22" fill="#0000cd"/>
<rect x="535" y="150" width="3" height="10" fill="#0000cd"/>
<rect x="540" y="151" width="1" height="21" fill="#ff0000"/>
<rect x="539" y="151" width="3" height="17" fill="#ff0000"/>
<rect x="543" y="164" width="1" height="12" fill="#ff0000"/>
<rect x="542" y="169" width="3" height="1" fill="#ff0000"/>
<rect x="547" y="153" width="1" height="27" fill="#ff0000"/>
<rect x="546" y="170" width="3" height="1" fill="#ff0000"/>
<rect x="551" y="161" width="1" height="22" fill="#ff0000"/>
<rect x="550" y="161" width="3" height="9" fill="#ff0000"/>
<rect x="555" y="163" width="1" height="23" fill="#ff0000"/>
<rect x="554" y="169" width="3" height="15" fill="#ff0000"/>
<rect x="559" y="150" width="1" height="34" fill="#0000cd"/>
<rect x="558" y="160" width="3" height="22" fill="#0000cd"/>
<rect x="563" y="155" width="1" height="21" fill="#ff0000"/>
<rect x="562" y="159" width="3" height="15" fill="#ff0000"/>
<rect x="567" y="160" width="1" height="15" fill="#0000cd"/>
<rect x="566" y="160" width="3" height="14" fill="#0000cd"/>
<rect x="570" y="139" width="1" height="28" fill="#0000cd"/>
<rect x="569" y="156" width="3" height="5" fill="#0000cd"/>
<rect x="574" y="141" width="1" height="23" fill="#0000cd"/>
<rect x="573" y="141" width="3" height="15" fill="#0000cd"/>
<rect x="578" y="138" width="1" height="14" fill="#ff0000"/>
<rect x="577" y="141" width="3" height="4" fill="#ff0000"/>
<rect x="582" y="113" width="1" height="35" fill="#0000cd"/>
<rect x="581" y="115" width="3" height="31" fill="#0000cd"/>
<rect x="586" y="101" width="1" height="36" fill="#0000cd"/>
<rect x="585" y="102" width="3" height="12" fill="#0000cd"/>
<rect x="590" y="98" width="1" height="17" fill="#ff0000"/>
<rect x="589" y="99" width="3" height="8" fill="#ff0000"/>
<rect x="594" y="90" width="1" height="18" fill="#0000cd"/>
<rect x="593" y="103" width="3" height="4" fill="#0000cd"/>
<rect x="598" y="96" width="1" height="23" fill="#ff0000"/>
<rect x="597" y="102" width="3" height="4" fill="#ff0000"/>
<rect x="601" y="99" width="1" height="16" fill="#0000cd"/>
<rect x="600" y="103" width="3" height="5" fill="#0000cd"/>
<rect x="605" y="100" width="1" height="25" fill="#ff0000"/>
<rect x="604" y="102" width="3" height="15" fill="#ff0000"/>
<rect x="609" y="103" width="1" height="22" fill="#ff0000"/>
<rect x="608" y="115" width="3" height="4" fill="#ff0000"/>
<rect x="613" y="113" width="1" height="23" fill="#ff0000"/>
<rect x="612" y="118" width="3" height="16" fill="#ff0000"/>
<rect x="617" y="117" width="1" height="22" fill="#0000cd"/>
<rect x="616" y="127" width="3" height="5" fill="#0000cd"/>
<rect x="621" y="121" width="1" height="15" fill="#ff0000"/>
<rect x="625" y="104" width="1" height="28" fill="#0000cd"/>
<rect x="624" y="105" width="3" height="18" fill="#0000cd"/>
<rect x="628" y="92" width="1" height="18" fill="#ff0000"/>
<rect x="627" y="105" width="3" height="3" fill="#ff0000"/>
<rect x="632" y="103" width="1" height="13" fill="#ff0000"/>
<rect x="631" y="108" width="3" height="1" fill="#ff0000"/>
<rect x="636" y="101" width="1" height="14" fill="#ff0000"/>
<rect x="635" y="108" width="3" height="4" fill="#ff0000"/>
<rect x="640" y="86" width="1" height="29" fill="#0000cd"/>
<rect x="639" y="88" width="3" height="24" fill="#0000cd"/>
<rect x="644" y="92" width="1" height="25" fill="#ff0000"/>
<rect x="643" y="93" width="3" height="21" fill="#ff0000"/>
<rect x="648" y="114" width="1" height="25" fill="#ff0000"/>
<rect x="647" y="114" width="3" height="7" fill="#ff0000"/>
<rect x="652" y="104" width="1" height="19" fill="#0000cd"/>
<rect x="651" y="114" width="3" height="7" fill="#0000cd"/>
<rect x="656" y="109" width="1" height="20" fill="#ff0000"/>
<rect x="655" y="114" width="3" height="8" fill="#ff0000"/>
<rect x="659" y="115" width="1" height="18" fill="#ff0000"/>
<rect x="658" y="122" width="3" height="1" fill="#ff0000"/>
<rect x="663" y="122" width="1" height="17" fill="#ff0000"/>
<rect x="662" y="124" width="3" height="7" fill="#ff0000"/>
<rect x="667" y="129" width="1" height="15" fill="#ff0000"/>
<rect x="666" y="131" width="3" height="11" fill="#ff0000"/>
<rect x="671" y="134" width="1" height="8" fill="#ff0000"/>
<rect x="670" y="141" width="3" height="1" fill="#ff0000"/>
<rect x="675" y="124" width="1" height="18" fill="#0000cd"/>
<rect x="674" y="125" width="3" height="16" fill="#0000cd"/>
<rect x="679" y="111" width="1" height="17" fill="#0000cd"/>
<rect x="678" y="116" width="3" height="9" fill="#0000cd"/>
<rect x="683" y="105" width="1" height="16" fill="#0000cd"/>
<rect x="686" y="107" width="1" height="22" fill="#ff0000"/>
<rect x="685" y="114" width="3" height="11" fill="#ff0000"/>
<rect x="690" y="118" width="1" height="10" fill="#ff0000"/>
<rect x="694" y="126" width="1" height="12" fill="#ff0000"/>
<rect x="693" y="126" width="3" height="11" fill="#ff0000"/>
<rect x="698" y="123" width="1" height="15" fill="#0000cd"/>
<rect x="697" y="127" width="3" height="9" fill="#0000cd"/>
<rect x="702" y="111" width="1" height="17" fill="#0000cd"/>
<rect x="701" y="112" width="3" height="15" fill="#0000cd"/>
<rect x="706" y="105" width="1" height="12" fill="#0000cd"/>
<rect x="705" y="107" width="3" height="5" fill="#0000cd"/>
<rect x="710" y="87" width="1" height="23" fill="#0000cd"/>
<rect x="709" y="95" width="3" height="13" fill="#0000cd"/>
<rect x="714" y="87" width="1" height="16" fill="#ff0000"/>
<rect x="717" y="57" width="1" height="40" fill="#0000cd"/>
<rect x="716" y="60" width="3" height="34" fill="#0000cd"/>
<rect x="721" y="53" width="1" height="27" fill="#ff0000"/>
<rect x="720" y="60" width="3" height="12" fill="#ff0000"/>
<rect x="725" y="62" width="1" height="15" fill="#0000cd"/>
<rect x="724" y="65" width="3" height="9" fill="#0000cd"/>
<rect x="729" y="63" width="1" height="16" fill="#ff0000"/>
<rect x="728" y="66" width="3" height="11" fill="#ff0000"/>
<rect x="733" y="50" width="1" height="30" fill="#0000cd"/>
<rect x="732" y="52" width="3" height="23" fill="#0000cd"/>
<rect x="737" y="50" width="1" height="15" fill="#ff0000"/>
<rect x="736" y="52" width="3" height="12" fill="#ff0000"/>
<rect x="741" y="62" width="1" height="15" fill="#ff0000"/>
<rect x="740" y="64" width="3" height="11" fill="#ff0000"/>
<rect x="744" y="68" width="1" height="15" fill="#ff0000"/>
<rect x="743" y="77" width="3" height="1" fill="#ff0000"/>
<rect x="748" y="69" width="1" height="13" fill="#ff0000"/>
<rect x="747" y="78" width="3" height="2" fill="#ff0000"/>
<rect x="752" y="73" width="1" height="40" fill="#ff0000"/>
<rect x="751" y="74" width="3" height="31" fill="#ff0000"/>
<rect x="756" y="101" width="1" height="13" fill="#0000cd"/>
<rect x="755" y="105" width="3" height="5" fill="#0000cd"/>
<rect x="760" y="104" width="1" height="34" fill="#ff0000"/>
<rect x="759" y="105" width="3" height="20" fill="#ff0000"/>
<rect x="764" y="117" width="1" height="18" fill="#ff0000"/>
<rect x="763" y="123" width="3" height="3" fill="#ff0000"/>
<rect x="768" y="121" width="1" height="29" fill="#ff0000"/>
<rect x="767" y="123" width="3" height="9" fill="#ff0000"/>
<rect x="772" y="119" width="1" height="23" fill="#0000cd"/>
<rect x="771" y="124" width="3" height="8" fill="#0000cd"/>
<rect x="775" y="111" width="1" height="19" fill="#0000cd"/>
<rect x="774" y="113" width="3" height="14" fill="#0000cd"/>
<rect x="779" y="113" width="1" height="14" fill="#ff0000"/>
<rect x="778" y="113" width="3" height="5" fill="#ff0000"/>
<rect x="783" y="117" width="1" height="16" fill="#ff0000"/>
<rect x="782" y="120" width="3" height="5" fill="#ff0000"/>
<rect x="787" y="117" width="1" height="19" fill="#ff0000"/>
<rect x="786" y="125" width="3" height="8" fill="#ff0000"/>
<rect x="791" y="122" width="1" height="13" fill="#0000cd"/>
<rect x="790" y="131" width="3" height="2" fill="#0000cd"/>
<rect x="795" y="121" width="1" height="15" fill="#0000cd"/>
<rect x="794" y="127" width="3" height="4" fill="#0000cd"/>
<rect x="799" y="106" width="1" height="24" fill="#0000cd"/>
<rect x="798" y="108" width="3" height="18" fill="#0000cd"/>
<rect x="802" y="107" width="1" height="23" fill="#ff0000"/>
<rect x="801" y="107" width="3" height="21" fill="#ff0000"/>
<rect x="806" y="119" width="1" height="15" fill="#0000cd"/>
<rect x="810" y="121" width="1" height="34" fill="#ff0000"/>
<rect x="809" y="128" width="3" height="23" fill="#ff0000"/>
<rect x="814" y="145" width="1" height="22" fill="#ff0000"/>
<rect x="813" y="150" width="3" height="12" fill="#ff0000"/>
<rect x="818" y="138" width="1" height="22" fill="#0000cd"/>
<rect x="817" y="146" width="3" height="13" fill="#0000cd"/>
<rect x="822" y="134" width="1" height="16" fill="#0000cd"/>
<rect x="821" y="134" width="3" height="12" fill="#0000cd"/>
<rect x="826" y="128" width="1" height="10" fill="#ff0000"/>
<rect x="825" y="135" width="3" height="1" fill="#ff0000"/>
<rect x="830" y="130" width="1" height="15" fill="#ff0000"/>
<rect x="829" y="136" width="3" height="7" fill="#ff0000"/>
<rect x="833" y="134" width="1" height="17" fill="#ff0000"/>
<rect x="832" y="142" width="3" height="2" fill="#ff0000"/>
<rect x="837" y="145" width="1" height="13" fill="#ff0000"/>
<rect x="841" y="152" width="1" height="13" fill="#ff0000"/>
<rect x="840" y="153" width="3" height="7" fill="#ff0000"/>
<rect x="845" y="155" width="1" height="22" fill="#ff0000"/>
<rect x="844" y="159" width="3" height="14" fill="#ff0000"/>
<rect x="849" y="173" width="1" height="32" fill="#ff0000"/>
<rect x="848" y="173" width="3" height="31" fill="#ff0000"/>
<rect x="853" y="190" width="1" height="23" fill="#0000cd"/>
<rect x="852" y="203" width="3" height="2" fill="#0000cd"/>
<rect x="857" y="189" width="1" height="16" fill="#ff0000"/>
<rect x="856" y="200" width="3" height="1" fill="#ff0000"/>
<rect x="860" y="196" width="1" height="24" fill="#ff0000"/>
<rect x="859" y="200" width="3" height="1" fill="#ff0000"/>
<rect x="864" y="199" width="1" height="15" fill="#ff0000"/>
<rect x="863" y="201" width="3" height="10" fill="#ff0000"/>
<rect x="868" y="203" width="1" height="21" fill="#ff0000"/>
<rect x="867" y="206" width="3" height="2" fill="#ff0000"/>
<rect x="872" y="186" width="1" height="29" fill="#0000cd"/>
<rect x="871" y="190" width="3" height="19" fill="#0000cd"/>
<rect x="876" y="188" width="1" height="14" fill="#ff0000"/>
<rect x="875" y="189" width="3" height="13" fill="#ff0000"/>
<rect x="880" y="193" width="1" height="17" fill="#0000cd"/>
<rect x="879" y="200" width="3" height="2" fill="#0000cd"/>
<rect x="884" y="199" width="1" height="41" fill="#ff0000"/>
<rect x="883" y="200" width="3" height="36" fill="#ff0000"/>
<rect x="887" y="234" width="1" height="48" fill="#ff0000"/>
<rect x="886" y="235" width="3" height="22" fill="#ff0000"/>
<rect x="891" y="259" width="1" height="58" fill="#ff0000"/>
<rect x="890" y="260" width="3" height="36" fill="#ff0000"/>
<rect x="895" y="275" width="1" height="27" fill="#ff0000"/>
<rect x="894" y="291" width="3" height="6" fill="#ff0000"/>
<rect x="899" y="294" width="1" height="25" fill="#ff0000"/>
<rect x="898" y="305" width="3" height="3" fill="#ff0000"/>
<rect x="903" y="285" width="1" height="33" fill="#0000cd"/>
<rect x="902" y="297" width="3" height="11" fill="#0000cd"/>
<rect x="907" y="236" width="1" height="63" fill="#0000cd"/>
<rect x="906" y="237" width="3" height="60" fill="#0000cd"/>
<rect x="911" y="240" width="1" height="36" fill="#ff0000"/>
<rect x="910" y="243" width="3" height="31" fill="#ff0000"/>
<rect x="915" y="265" width="1" height="24" fill="#ff0000"/>
<rect x="914" y="267" width="3" height="12" fill="#ff0000"/>
<rect x="918" y="267" width="1" height="35" fill="#ff0000"/>
<rect x="917" y="280" width="3" height="19" fill="#ff0000"/>
<rect x="922" y="260" width="1" height="43" fill="#0000cd"/>
<rect x="921" y="268" width="3" height="33" fill="#0000cd"/>
<rect x="926" y="255" width="1" height="22" fill="#0000cd"/>
<rect x="925" y="259" width="3" height="9" fill="#0000cd"/>
<rect x="930" y="250" width="1" height="15" fill="#0000cd"/>
<rect x="929" y="252" width="3" height="9" fill="#0000cd"/>
<rect x="934" y="241" width="1" height="33" fill="#ff0000"/>
<rect x="933" y="252" width="3" height="17" fill="#ff0000"/>
<rect x="938" y="226" width="1" height="40" fill="#0000cd"/>
<rect x="937" y="229" width="3" height="36" fill="#0000cd"/>
<rect x="942" y="227" width="1" height="27" fill="#ff0000"/>
<rect x="941" y="229" width="3" height="20" fill="#ff0000"/>
<rect x="945" y="244" width="1" height="29" fill="#ff0000"/>
<rect x="944" y="251" width="3" height="13" fill="#ff0000"/>
<rect x="949" y="260" width="1" height="14" fill="#ff0000"/>
<rect x="948" y="263" width="3" height="3" fill="#ff0000"/>
<rect x="953" y="250" width="1" height="28" fill="#0000cd"/>
<rect x="952" y="254" width="3" height="10" fill="#0000cd"/>
<rect x="957" y="239" width="1" height="27" fill="#ff0000"/>
<rect x="956" y="253" width="3" height="5" fill="#ff0000"/>
<rect x="961" y="237" width="1" height="22" fill="#0000cd"/>
<rect x="960" y="243" width="3" height="14" fill="#0000cd"/>
<rect x="965" y="237" width="1" height="13" fill="#ff0000"/>
<rect x="964" y="243" width="3" height="4" fill="#ff0000"/>
<rect x="969" y="230" width="1" height="31" fill="#ff0000"/>
<rect x="968" y="248" width="3" height="12" fill="#ff0000"/>
<rect x="973" y="236" width="1" height="32" fill="#0000cd"/>
<rect x="972" y="254" width="3" height="9" fill="#0000cd"/>
<rect x="976" y="246" width="1" height="17" fill="#ff0000"/>
<rect x="975" y="252" width="3" height="1" fill="#ff0000"/>
<rect x="980" y="253" width="1" height="29" fill="#ff0000"/>
<rect x="979" y="253" width="3" height="26" fill="#ff0000"/>
<rect x="984" y="281" width="1" height="23" fill="#ff0000"/>
<rect x="983" y="287" width="3" height="15" fill="#ff0000"/>
<rect x="988" y="275" width="1" height="29" fill="#0000cd"/>
<rect x="987" y="293" width="3" height="8" fill="#0000cd"/>
<rect x="992" y="284" width="1" height="16" fill="#0000cd"/>
<rect x="991" y="295" width="3" height="2" fill="#0000cd"/>
<rect x="996" y="295" width="1" height="27" fill="#ff0000"/>
<rect x="995" y="295" width="3" height="21" fill="#ff0000"/>
<rect x="1000" y="321" width="1" height="44" fill="#ff0000"/>
<rect x="999" y="322" width="3" height="35" fill="#ff0000"/>
<rect x="1003" y="344" width="1" height="98" fill="#ff0000"/>
<rect x="1002" y="364" width="3" height="60" fill="#ff0000"/>
<rect x="1007" y="338" width="1" height="188" fill="#0000cd"/>
<rect x="1006" y="382" width="3" height="93" fill="#0000cd"/>
<rect x="1011" y="314" width="1" height="117" fill="#0000cd"/>
<rect x="1010" y="402" width="3" height="20" fill="#0000cd"/>
<rect x="1015" y="383" width="1" height="45" fill="#0000cd"/>
<rect x="1014" y="399" width="3" height="12" fill="#0000cd"/>
<path d="M10 145h1v1h-1zM11 145h1v1h-1zM12 146h1v1h-1zM13 147h1v1h-1zM14 148h1v1h-1zM15 149h1v1h-1zM16 149h1v1h-1zM17 150h1v1h-1zM18 151h1v1h-1zM19 151h1v1h-1zM20 152h1v1h-1zM21 153h1v1h-1zM22 153h1v1h-1zM23 153h1v1h-1zM24 153h1v1h-1zM25 153h1v1h-1zM26 153h1v1h-1zM27 153h1v1h-1zM28 153h1v1h-1zM29 153h1v1h-1zM30 152h1v1h-1zM31 152h1v1h-1zM32 152h1v1h-1zM33 152h1v1h-1zM34 152h1v1h-1zM35 152h1v1h-1zM36 152h1v1h-1zM37 151h1v1h-1zM38 151h1v1h-1zM39 151h1v1h-1zM40 151h1v1h-1zM41 151h1v1h-1zM42 150h1v1h-1zM43 150h1v1h-1zM44 149h1v1h-1zM45 149h1v1h-1zM46 148h1v1h-1zM47 148h1v1h-1zM48 147h1v1h-1zM49 147h1v1h-1zM50 147h1v1h-1zM51 146h1v1h-1zM52 146h1v1h-1zM53 145h1v1h-1zM54 144h1v1h-1zM55 144h1v1h-1zM56 143h1v1h-1zM57 142h1v1h-1zM58 141h1v1h-1zM59 141h1v1h-1zM60 141h1v1h-1zM61 140h1v1h-1zM62 140h1v1h-1zM63 139h1v1h-1zM64 139h1v1h-1zM65 138h1v1h-1zM66 138h1v1h-1zM67 138h1v1h-1zM68 138h1v1h-1zM69 138h1v1h-1zM70 138h1v1h-1zM71 138h1v1h-1zM72 138h1v1h-1zM73 138h1v1h-1zM74 138h1v1h-1zM75 138h1v1h-1zM76 138h1v1h-1zM77 139h1v1h-1zM78 139h1v1h-1zM79 139h1v1h-1zM80 139h1v1h-1zM81 139h1v1h-1zM82 140h1v1h-1zM83 140h1v1h-1zM84 141h1v1h-1zM85 141h1v1h-1zM86 142h1v1h-1zM87 142h1v1h-1zM88 142h1v1h-1zM89 142h1v1h-1zM90 142h1v1h-1zM91 142h1v1h-1zM92 142h1v1h-1zM93 142h1v1h-1zM94 142h1v1h-1zM95 142h1v1h-1zM96 142h1v1h-1zM97 142h1v1h-1zM98 142h1v1h-1zM99 142h1v1h-1zM100 142h1v1h-1zM101 142h1v1h-1zM102 142h1v1h-1zM103 143h1v1h-1zM104 143h1v1h-1zM105 143h1v1h-1zM106 143h1v1h-1zM107 143h1v1h-1zM108 143h1v1h-1zM109 143h1v1h-1zM110 143h1v1h-1zM111 143h1v1h-1zM112 143h1v1h-1zM113 143h1v1h-1zM114 143h1v1h-1zM115 143h1v1h-1zM116 143h1v1h-1zM117 143h1v1h-1zM118 143h1v1h-1zM119 143h1v1h-1zM120 143h1v1h-1zM121 143h1v1h-1zM122 143h1v1h-1zM123 143h1v1h-1zM124 143h1v1h-1zM125 143h1v1h-1zM126 143h1v1h-1zM127 143h1v1h-1zM128 142h1v1h-1zM129 142h1v1h-1zM130 142h1v1h-1zM131 141h1v1h-1zM132 141h1v1h-1zM133 141h1v1h-1zM134 140h1v1h-1zM135 140h1v1h-1zM136 140h1v1h-1zM137 140h1v1h-1zM138 139h1v1h-1zM139 139h1v1h-1zM140 139h1v1h-1zM141 139h1v1h-1zM142 139h1v1h-1zM143 139h1v1h-1zM144 139h1v1h-1zM145 139h1v1h-1zM146 139h1v1h-1zM147 139h1v1h-1zM148 139h1v1h-1zM149 139h1v1h-1zM150 139h1v1h-1zM151 139h1v1h-1zM152 139h1v1h-1zM153 139h1v1h-1zM154 139h1v1h-1zM155 139h1v1h-1zM156 139h1v1h-1zM157 139h1v1h-1zM158 139h1v1h-1zM159 139h1v1h-1zM160 139h1v1h-1zM161 139h1v1h-1zM162 139h1v1h-1zM163 140h1v1h-1zM164 140h1v1h-1zM165 140h1v1h-1zM166 141h1v1h-1zM167 141h1v1h-1zM168 141h1v1h-1zM169 141h1v1h-1zM170 142h1v1h-1zM171 142h1v1h-1zM172 142h1v1h-1zM173 142h1v1h-1zM174 143h1v1h-1zM175 143h1v1h-1zM176 143h1v1h-1zM177 144h1v1h-1zM178 144h1v1h-1zM179 145h1v1h-1zM180 145h1v1h-1zM181 146h1v1h-1zM182 147h1v1h-1zM183 147h1v1h-1zM184 148h1v1h-1zM185 149h1v1h-1zM186 149h1v1h-1zM187 150h1v1h-1zM188 150h1v1h-1zM189 151h1v1h-1zM190 151h1v1h-1zM191 152h1v1h-1zM192 152h1v1h-1zM193 153h1v1h-1zM194 153h1v1h-1zM195 154h1v1h-1zM196 154h1v1h-1zM197 154h1v1h-1zM198 155h1v1h-1zM199 155h1v1h-1zM200 155h1v1h-1zM201 156h1v1h-1zM202 156h1v1h-1zM203 156h1v1h-1zM204 156h1v1h-1zM205 157h1v1h-1zM206 157h1v1h-1zM207 157h1v1h-1zM208 158h1v1h-1zM209 159h1v1h-1zM210 159h1v1h-1zM211 160h1v1h-1zM212 160h1v1h-1zM213 161h1v1h-1zM214 161h1v1h-1zM215 162h1v1h-1zM216 163h1v1h-1zM217 163h1v1h-1zM218 163h1v1h-1zM219 164h1v1h-1zM220 164h1v1h-1zM221 165h1v1h-1zM222 165h1v1h-1zM223 165h1v1h-1zM224 166h1v1h-1zM225 166h1v1h-1zM226 166h1v1h-1zM227 166h1v1h-1zM228 166h1v1h-1zM229 167h1v1h-1zM230 167h1v1h-1zM231 167h1v1h-1zM232 167h1v1h-1zM233 168h1v1h-1zM234 168h1v1h-1zM235 168h1v1h-1zM236 169h1v1h-1zM237 169h1v1h-1zM238 169h1v1h-1zM239 170h1v1h-1zM240 170h1v1h-1zM241 171h1v1h-1zM242 171h1v1h-1zM243 171h1v1h-1zM244 172h1v1h-1zM245 173h1v1h-1zM246 173h1v1h-1zM247 174h1v1h-1zM248 174h1v1h-1zM249 175h1v1h-1zM250 176h1v1h-1zM251 176h1v1h-1zM252 177h1v1h-1zM253 178h1v1h-1zM254 179h1v1h-1zM255 179h1v1h-1zM256 180h1v1h-1zM257 181h1v1h-1zM258 182h1v1h-1zM259 183h1v1h-1zM260 184h1v1h-1zM261 185h1v1h-1zM262 186h1v1h-1zM263 187h1v2h-1zM264 189h1v1h-1zM265 190h1v1h-1zM266 191h1v1h-1zM267 192h1v1h-1zM268 193h1v1h-1zM269 193h1v1h-1zM270 194h1v1h-1zM271 195h1v1h-1zM272 196h1v1h-1zM273 196h1v1h-1zM274 197h1v1h-1zM275 198h1v1h-1zM276 199h1v1h-1zM277 199h1v1h-1zM278 200h1v1h-1zM279 201h1v1h-1zM280 201h1v1h-1zM281 202h1v1h-1zM282 202h1v1h-1zM283 203h1v1h-1zM284 204h1v1h-1zM285 204h1v1h-1zM286 205h1v1h-1zM287 206h1v1h-1zM288 206h1v1h-1zM289 207h1v1h-1zM290 208h1v1h-1zM291 208h1v1h-1zM292 209h1v1h-1zM293 209h1v1h-1zM294 210h1v1h-1zM295 211h1v1h-1zM296 211h1v1h-1zM297 212h1v1h-1zM298 213h1v1h-1zM299 213h1v1h-1zM300 213h1v1h-1zM301 213h1v1h-1zM302 213h1v1h-1zM303 213h1v1h-1zM304 213h1v1h-1zM305 213h1v1h-1zM306 214h1v1h-1zM307 214h1v1h-1zM308 215h1v1h-1zM309 215h1v1h-1zM310 215h1v1h-1zM311 216h1v1h-1zM312 216h1v1h-1zM313 216h1v1h-1zM314 217h1v1h-1zM315 217h1v1h-1zM316 216h1v1h-1zM317 216h1v1h-1zM318 216h1v1h-1zM319 216h1v1h-1zM320 216h1v1h-1zM321 216h1v1h-1zM322 215h1v1h-1zM323 215h1v1h-1zM324 215h1v1h-1zM325 215h1v1h-1zM326 215h1v1h-1zM327 215h1v1h-1zM328 215h1v1h-1zM329 215h1v1h-1zM330 215h1v1h-1zM331 215h1v1h-1zM332 214h1v1h-1zM333 213h1v1h-1zM334 212h1v1h-1zM335 211h1v1h-1zM336 211h1v1h-1zM337 210h1v1h-1zM338 209h1v1h-1zM339 207h1v2h-1zM340 206h1v1h-1zM341 205h1v1h-1zM342 204h1v1h-1zM343 202h1v2h-1zM344 201h1v1h-1zM345 200h1v1h-1zM346 199h1v1h-1zM347 198h1v1h-1zM348 197h1v1h-1zM349 195h1v2h-1zM350 194h1v1h-1zM351 193h1v1h-1zM352 192h1v1h-1zM353 191h1v1h-1zM354 190h1v1h-1zM355 189h1v1h-1zM356 188h1v1h-1zM357 187h1v1h-1zM358 186h1v1h-1zM359 185h1v1h-1zM360 184h1v1h-1zM361 183h1v1h-1zM362 182h1v1h-1zM363 182h1v1h-1zM364 181h1v1h-1zM365 180h1v1h-1zM366 179h1v1h-1zM367 179h1v1h-1zM368 178h1v1h-1zM369 177h1v1h-1zM370 176h1v1h-1zM371 176h1v1h-1zM372 175h1v1h-1zM373 174h1v1h-1zM374 174h1v1h-1zM375 173h1v1h-1zM376 172h1v1h-1zM377 171h1v1h-1zM378 171h1v1h-1zM379 170h1v1h-1zM380 169h1v1h-1zM381 168h1v1h-1zM382 168h1v1h-1zM383 167h1v1h-1zM384 167h1v1h-1zM385 166h1v1h-1zM386 166h1v1h-1zM387 165h1v1h-1zM388 165h1v1h-1zM389 165h1v1h-1zM390 164h1v1h-1zM391 164h1v1h-1zM392 164h1v1h-1zM393 163h1v1h-1zM394 163h1v1h-1zM395 162h1v1h-1zM396 162h1v1h-1zM397 161h1v1h-1zM398 161h1v1h-1zM399 160h1v1h-1zM400 159h1v1h-1zM401 158h1v1h-1zM402 157h1v1h-1zM403 157h1v1h-1zM404 156h1v1h-1zM405 155h1v1h-1zM406 155h1v1h-1zM407 155h1v1h-1zM408 155h1v1h-1zM409 154h1v1h-1zM410 154h1v1h-1zM411 154h1v1h-1zM412 154h1v1h-1zM413 153h1v1h-1zM414 153h1v1h-1zM415 153h1v1h-1zM416 153h1v1h-1zM417 153h1v1h-1zM418 152h1v1h-1zM419 152h1v1h-1zM420 152h1v1h-1zM421 152h1v1h-1zM422 152h1v1h-1zM423 151h1v1h-1zM424 151h1v1h-1zM425 151h1v1h-1zM426 151h1v1h-1zM427 151h1v1h-1zM428 150h1v1h-1zM429 150h1v1h-1zM430 150h1v1h-1zM431 150h1v1h-1zM432 150h1v1h-1zM433 149h1v1h-1zM434 149h1v1h-1zM435 149h1v1h-1zM436 149h1v1h-1zM437 149h1v1h-1zM438 149h1v1h-1zM439 149h1v1h-1zM440 149h1v1h-1zM441 149h1v1h-1zM442 149h1v1h-1zM443 149h1v1h-1zM444 149h1v1h-1zM445 149h1v1h-1zM446 149h1v1h-1zM447 149h1v1h-1zM448 149h1v1h-1zM449 149h1v1h-1zM450 150h1v1h-1zM451 150h1v1h-1zM452 150h1v1h-1zM453 150h1v1h-1zM454 151h1v1h-1zM455 151h1v1h-1zM456 151h1v1h-1zM457 151h1v1h-1zM458 152h1v1h-1zM459 152h1v1h-1zM460 152h1v1h-1zM461 153h1v1h-1zM462 153h1v1h-1zM463 153h1v1h-1zM464 153h1v1h-1zM465 152h1v1h-1zM466 152h1v1h-1zM467 152h1v1h-1zM468 152h1v1h-1zM469 152h1v1h-1zM470 152h1v1h-1zM471 152h1v1h-1zM472 152h1v1h-1zM473 152h1v1h-1zM474 152h1v1h-1zM475 152h1v1h-1zM476 152h1v1h-1zM477 152h1v1h-1zM478 152h1v1h-1zM479 153h1v1h-1zM480 153h1v1h-1zM481 153h1v1h-1zM482 153h1v1h-1zM483 153h1v1h-1zM484 153h1v1h-1zM485 153h1v1h-1zM486 153h1v1h-1zM487 154h1v1h-1zM488 154h1v1h-1zM489 154h1v1h-1zM490 154h1v1h-1zM491 154h1v1h-1zM492 154h1v1h-1zM493 155h1v1h-1zM494 155h1v1h-1zM495 155h1v1h-1zM496 155h1v1h-1zM497 156h1v1h-1zM498 156h1v1h-1zM499 156h1v1h-1zM500 156h1v1h-1zM501 157h1v1h-1zM502 157h1v1h-1zM503 157h1v1h-1zM504 157h1v1h-1zM505 158h1v1h-1zM506 158h1v1h-1zM507 158h1v1h-1zM508 158h1v1h-1zM509 158h1v1h-1zM510 158h1v1h-1zM511 158h1v1h-1zM512 158h1v1h-1zM513 158h1v1h-1zM514 158h1v1h-1zM515 158h1v1h-1zM516 158h1v1h-1zM517 157h1v1h-1zM518 157h1v1h-1zM519 157h1v1h-1zM520 157h1v1h-1zM521 157h1v1h-1zM522 157h1v1h-1zM523 157h1v1h-1zM524 157h1v1h-1zM525 157h1v1h-1zM526 157h1v1h-1zM527 157h1v1h-1zM528 157h1v1h-1zM529 157h1v1h-1zM530 157h1v1h-1zM531 157h1v1h-1zM532 157h1v1h-1zM533 157h1v1h-1zM534 157h1v1h-1zM535 157h1v1h-1zM536 157h1v1h-1zM537 157h1v1h-1zM538 158h1v1h-1zM539 158h1v1h-1zM540 158h1v1h-1zM541 158h1v1h-1zM542 158h1v1h-1zM543 158h1v1h-1zM544 158h1v1h-1zM545 158h1v1h-1zM546 158h1v1h-1zM547 159h1v1h-1zM548 159h1v1h-1zM549 159h1v1h-1zM550 159h1v1h-1zM551 159h1v1h-1zM552 159h1v1h-1zM553 160h1v1h-1zM554 160h1v1h-1zM555 160h1v1h-1zM556 160h1v1h-1zM557 160h1v1h-1zM558 160h1v1h-1zM559 160h1v1h-1zM560 160h1v1h-1zM561 160h1v1h-1zM562 160h1v1h-1zM563 160h1v1h-1zM564 160h1v1h-1zM565 160h1v1h-1zM566 160h1v1h-1zM567 160h1v1h-1zM568 160h1v1h-1zM569 160h1v1h-1zM570 160h1v1h-1zM571 160h1v1h-1zM572 160h1v1h-1zM573 160h1v1h-1zM574 160h1v1h-1zM575 160h1v1h-1zM576 159h1v1h-1zM577 159h1v1h-1zM578 158h1v1h-1zM579 158h1v1h-1zM580 157h1v1h-1zM581 157h1v1h-1zM582 156h1v1h-1zM583 155h1v1h-1zM584 154h1v1h-1zM585 154h1v1h-1zM586 153h1v1h-1zM587 152h1v1h-1zM588 152h1v1h-1zM589 151h1v1h-1zM590 151h1v1h-1zM591 150h1v1h-1zM592 149h1v1h-1zM593 149h1v1h-1zM594 148h1v1h-1zM595 148h1v1h-1zM596 147h1v1h-1zM597 147h1v1h-1zM598 146h1v1h-1zM599 146h1v1h-1zM600 145h1v1h-1zM601 145h1v1h-1zM602 144h1v1h-1zM603 144h1v1h-1zM604 143h1v1h-1zM605 143h1v1h-1zM606 143h1v1h-1zM607 143h1v1h-1zM608 143h1v1h-1zM609 142h1v1h-1zM610 142h1v1h-1zM611 142h1v1h-1zM612 142h1v1h-1zM613 142h1v1h-1zM614 142h1v1h-1zM615 142h1v1h-1zM616 141h1v1h-1zM617 141h1v1h-1zM618 141h1v1h-1zM619 141h1v1h-1zM620 141h1v1h-1zM621 141h1v1h-1zM622 140h1v1h-1zM623 140h1v1h-1zM624 140h1v1h-1zM625 139h1v1h-1zM626 139h1v1h-1zM627 138h1v1h-1zM628 138h1v1h-1zM629 137h1v1h-1zM630 137h1v1h-1zM631 136h1v1h-1zM632 136h1v1h-1zM633 135h1v1h-1zM634 135h1v1h-1zM635 134h1v1h-1zM636 134h1v1h-1zM637 133h1v1h-1zM638 133h1v1h-1zM639 132h1v1h-1zM640 132h1v1h-1zM641 132h1v1h-1zM642 131h1v1h-1zM643 131h1v1h-1zM644 131h1v1h-1zM645 131h1v1h-1zM646 131h1v1h-1zM647 130h1v1h-1zM648 130h1v1h-1zM649 130h1v1h-1zM650 130h1v1h-1zM651 130h1v1h-1zM652 130h1v1h-1zM653 130h1v1h-1zM654 130h1v1h-1zM655 130h1v1h-1zM656 130h1v1h-1zM657 130h1v1h-1zM658 130h1v1h-1zM659 130h1v1h-1zM660 130h1v1h-1zM661 130h1v1h-1zM662 130h1v1h-1zM663 130h1v1h-1zM664 130h1v1h-1zM665 130h1v1h-1zM666 130h1v1h-1zM667 130h1v1h-1zM668 130h1v1h-1zM669 130h1v1h-1zM670 130h1v1h-1zM671 130h1v1h-1zM672 130h1v1h-1zM673 130h1v1h-1zM674 130h1v1h-1zM675 130h1v1h-1zM676 130h1v1h-1zM677 130h1v1h-1zM678 130h1v1h-1zM679 130h1v1h-1zM680 130h1v1h-1zM681 130h1v1h-1zM682 130h1v1h-1zM683 130h1v1h-1zM684 130h1v1h-1zM685 130h1v1h-1zM686 129h1v1h-1zM687 129h1v1h-1zM688 129h1v1h-1zM689 129h1v1h-1zM690 129h1v1h-1zM691 129h1v1h-1zM692 129h1v1h-1zM693 129h1v1h-1zM694 129h1v1h-1zM695 129h1v1h-1zM696 128h1v1h-1zM697 128h1v1h-1zM698 128h1v1h-1zM699 128h1v1h-1zM700 128h1v1h-1zM701 128h1v1h-1zM702 128h1v1h-1zM703 127h1v1h-1zM704 127h1v1h-1zM705 127h1v1h-1zM706 127h1v1h-1zM707 126h1v1h-1zM708 126h1v1h-1zM709 126h1v1h-1zM710 126h1v1h-1zM711 125h1v1h-1zM712 125h1v1h-1zM713 124h1v1h-1zM714 123h1v1h-1zM715 123h1v1h-1zM716 122h1v1h-1zM717 121h1v1h-1zM718 120h1v1h-1zM719 120h1v1h-1zM720 119h1v1h-1zM721 118h1v1h-1zM722 118h1v1h-1zM723 117h1v1h-1zM724 116h1v1h-1zM725 116h1v1h-1zM726 115h1v1h-1zM727 115h1v1h-1zM728 114h1v1h-1zM729 113h1v1h-1zM730 113h1v1h-1zM731 112h1v1h-1zM732 112h1v1h-1zM733 111h1v1h-1zM734 111h1v1h-1zM735 110h1v1h-1zM736 109h1v1h-1zM737 109h1v1h-1zM738 108h1v1h-1zM739 108h1v1h-1zM740 107h1v1h-1zM741 107h1v1h-1zM742 106h1v1h-1zM743 106h1v1h-1zM744 105h1v1h-1zM745 105h1v1h-1zM746 104h1v1h-1zM747 104h1v1h-1zM748 104h1v1h-1zM749 104h1v1h-1zM750 104h1v1h-1zM751 104h1v1h-1zM752 104h1v1h-1zM753 104h1v1h-1zM754 105h1v1h-1zM755 105h1v1h-1zM756 105h1v1h-1zM757 105h1v1h-1zM758 106h1v1h-1zM759 106h1v1h-1zM760 106h1v1h-1zM761 106h1v1h-1zM762 107h1v1h-1zM763 107h1v1h-1zM764 107h1v1h-1zM765 107h1v1h-1zM766 107h1v1h-1zM767 108h1v1h-1zM768 108h1v1h-1zM769 108h1v1h-1zM770 108h1v1h-1zM771 108h1v1h-1zM772 109h1v1h-1zM773 109h1v1h-1zM774 109h1v1h-1zM775 109h1v1h-1zM776 109h1v1h-1zM777 109h1v1h-1zM778 109h1v1h-1zM779 109h1v1h-1zM780 109h1v1h-1zM781 110h1v1h-1zM782 110h1v1h-1zM783 110h1v1h-1zM784 110h1v1h-1zM785 110h1v1h-1zM786 111h1v1h-1zM787 111h1v1h-1zM788 111h1v1h-1zM789 111h1v1h-1zM790 111h1v1h-1zM791 112h1v1h-1zM792 112h1v1h-1zM793 112h1v1h-1zM794 112h1v1h-1zM795 112h1v1h-1zM796 112h1v1h-1zM797 113h1v1h-1zM798 113h1v1h-1zM799 113h1v1h-1zM800 113h1v1h-1zM801 113h1v1h-1zM802 113h1v1h-1zM803 113h1v1h-1zM804 114h1v1h-1zM805 114h1v1h-1zM806 114h1v1h-1zM807 115h1v1h-1zM808 115h1v1h-1zM809 116h1v1h-1zM810 116h1v1h-1zM811 117h1v1h-1zM812 117h1v1h-1zM813 118h1v1h-1zM814 118h1v1h-1zM815 119h1v1h-1zM816 119h1v1h-1zM817 119h1v1h-1zM818 120h1v1h-1zM819 120h1v1h-1zM820 120h1v1h-1zM821 120h1v1h-1zM822 121h1v1h-1zM823 121h1v1h-1zM824 121h1v1h-1zM825 121h1v1h-1zM826 121h1v1h-1zM827 122h1v1h-1zM828 122h1v1h-1zM829 122h1v1h-1zM830 122h1v1h-1zM831 122h1v1h-1zM832 123h1v1h-1zM833 123h1v1h-1zM834 123h1v1h-1zM835 124h1v1h-1zM836 124h1v1h-1zM837 124h1v1h-1zM838 125h1v1h-1zM839 125h1v1h-1zM840 126h1v1h-1zM841 126h1v1h-1zM842 127h1v1h-1zM843 127h1v1h-1zM844 128h1v1h-1zM845 128h1v1h-1zM846 129h1v1h-1zM847 130h1v1h-1zM848 131h1v1h-1zM849 132h1v1h-1zM850 133h1v1h-1zM851 134h1v1h-1zM852 135h1v1h-1zM853 135h1v1h-1zM854 136h1v1h-1zM855 137h1v1h-1zM856 138h1v1h-1zM857 139h1v1h-1zM858 140h1v1h-1zM859 141h1v1h-1zM860 142h1v1h-1zM861 143h1v1h-1zM862 143h1v1h-1zM863 144h1v1h-1zM864 145h1v1h-1zM865 146h1v1h-1zM866 147h1v1h-1zM867 147h1v1h-1zM868 148h1v1h-1zM869 149h1v1h-1zM870 149h1v1h-1zM871 150h1v1h-1zM872 151h1v1h-1zM873 151h1v1h-1zM874 152h1v1h-1zM875 153h1v1h-1zM876 153h1v1h-1zM877 154h1v1h-1zM878 154h1v1h-1zM879 155h1v1h-1zM880 156h1v1h-1zM881 157h1v1h-1zM882 158h1v1h-1zM883 159h1v1h-1zM884 160h1v1h-1zM885 161h1v2h-1zM886 163h1v1h-1zM887 164h1v1h-1zM888 165h1v1h-1zM889 166h1v2h-1zM890 168h1v1h-1zM891 169h1v2h-1zM892 171h1v1h-1zM893 172h1v2h-1zM894 174h1v2h-1zM895 176h1v2h-1zM896 178h1v2h-1zM897 180h1v1h-1zM898 181h1v2h-1zM899 183h1v1h-1zM900 184h1v2h-1zM901 186h1v1h-1zM902 187h1v1h-1zM903 187h1v1h-1zM904 188h1v1h-1zM905 189h1v1h-1zM906 189h1v1h-1zM907 190h1v1h-1zM908 191h1v1h-1zM909 192h1v1h-1zM910 193h1v1h-1zM911 194h1v1h-1zM912 195h1v1h-1zM913 196h1v2h-1zM914 198h1v1h-1zM915 199h1v1h-1zM916 200h1v2h-1zM917 202h1v1h-1zM918 203h1v2h-1zM919 205h1v1h-1zM920 206h1v1h-1zM921 206h1v1h-1zM922 207h1v1h-1zM923 207h1v1h-1zM924 208h1v1h-1zM925 209h1v1h-1zM926 209h1v1h-1zM927 210h1v1h-1zM928 210h1v1h-1zM929 211h1v1h-1zM930 211h1v1h-1zM931 212h1v1h-1zM932 212h1v1h-1zM933 213h1v1h-1zM934 213h1v1h-1zM935 214h1v1h-1zM936 214h1v1h-1zM937 214h1v1h-1zM938 215h1v1h-1zM939 215h1v1h-1zM940 216h1v1h-1zM941 216h1v1h-1zM942 217h1v1h-1zM943 218h1v1h-1zM944 218h1v1h-1zM945 219h1v1h-1zM946 219h1v1h-1zM947 220h1v1h-1zM948 220h1v1h-1zM949 221h1v1h-1zM950 221h1v1h-1zM951 222h1v1h-1zM952 222h1v1h-1zM953 223h1v1h-1zM954 224h1v1h-1zM955 224h1v1h-1zM956 224h1v1h-1zM957 225h1v1h-1zM958 225h1v1h-1zM959 225h1v1h-1zM960 225h1v1h-1zM961 226h1v1h-1zM962 226h1v1h-1zM963 226h1v1h-1zM964 226h1v1h-1zM965 227h1v1h-1zM966 227h1v1h-1zM967 227h1v1h-1zM968 228h1v1h-1zM969 228h1v1h-1zM970 228h1v1h-1zM971 229h1v1h-1zM972 229h1v1h-1zM973 229h1v1h-1zM974 230h1v1h-1zM975 231h1v1h-1zM976 231h1v1h-1zM977 232h1v1h-1zM978 232h1v1h-1zM979 233h1v1h-1zM980 234h1v1h-1zM981 234h1v1h-1zM982 235h1v1h-1zM983 236h1v1h-1zM984 236h1v1h-1zM985 237h1v1h-1zM986 238h1v1h-1zM987 239h1v1h-1zM988 239h1v1h-1zM989 240h1v1h-1zM990 241h1v1h-1zM991 241h1v1h-1zM992 242h1v1h-1zM993 243h1v1h-1zM994 243h1v1h-1zM995 244h1v1h-1zM996 245h1v1h-1zM997 246h1v2h-1zM998 248h1v1h-1zM999 249h1v2h-1zM1000 251h1v2h-1zM1001 253h1v2h-1zM1002 255h1v2h-1zM1003 257h1v2h-1zM1004 259h1v2h-1zM1005 261h1v2h-1zM1006 263h1v1h-1zM1007 264h1v2h-1zM1008 266h1v2h-1zM1009 268h1v2h-1zM1010 270h1v1h-1zM1011 271h1v2h-1zM1012 273h1v2h-1zM1013 275h1v1h-1zM1014 276h1v2h-1zM1015 278h1v1h-1z" fill="#a52a2a" shape-rendering="crispEdges"/>
<rect x="1.5" y="30.5" width="1024" height="514" fill="none" stroke="#000" stroke-width="1"/>
<rect x="10" y="31" width="50" height="17" fill="#fff"/>
<rect x="10" y="52" width="61" height="16" fill="#fff"/>
<text transform="translate(10.74,21) scale(0.9617,1.0)" font-size="16.4" fill="#000" stroke="#000" stroke-width="0.2">US</text>
<text transform="translate(39.4,21) scale(1.1904,1.0)" font-size="16.4" fill="#000" stroke="#000" stroke-width="0.2">30yr</text>
<text transform="translate(82.5,21) scale(1.1178,1.0)" font-size="16.4" fill="#000" stroke="#000" stroke-width="0.2">Treasury</text>
<text transform="translate(161.62,21) scale(1.0763,1.0)" font-size="16.4" fill="#000" stroke="#000" stroke-width="0.2">Bond</text>
<text transform="translate(209.2,21) scale(1.0778,1.0)" font-size="16.4" fill="#000" stroke="#000" stroke-width="0.2">Yield</text>
<text transform="translate(253.94,21) scale(1.0598,1.0)" font-size="16.4" fill="#000" stroke="#000" stroke-width="0.2">(USGG30YR</text>
<text transform="translate(360.9,21) scale(1.0963,1.0)" font-size="16.4" fill="#000" stroke="#000" stroke-width="0.2">INDEX)</text>
<text transform="translate(428.75,21) scale(1.1503,1.0)" font-size="16.4" fill="#000" stroke="#000" stroke-width="0.2">1.431</text>
<text transform="translate(483.3,21) scale(1.1232,1.0)" font-size="16.4" fill="#0000ff">0.01</text>
<text transform="translate(985.7,20) scale(1.0941,1.0)" font-size="15.7" fill="#111">2020-03-26</text>
<text transform="translate(10.0,45) scale(1.0869,1.0)" font-size="13.8" fill="#0000f5">Weekly</text>
<text transform="translate(10.01,65) scale(0.9867,1.11)" font-size="13.6" fill="#a52a2a">EMA</text>
<text transform="translate(45.1,65) scale(1.0856,1.11)" font-size="13.6" fill="#a52a2a">200</text>
<text transform="translate(4.95,562.7) scale(1.1297,1.0)" font-size="12" fill="#000">Apr</text>
<text transform="translate(58.8,562.7) scale(0.9132,1.0)" font-size="12" fill="#000">Jul</text>
<text transform="translate(105.45,562.7) scale(1.0396,1.0)" font-size="12" fill="#000">Oct</text>
<text transform="translate(151.6,562.7) scale(1.1398,1.0)" font-size="12" fill="#000">2016</text>
<text transform="translate(205.95,562.7) scale(1.1297,1.0)" font-size="12" fill="#000">Apr</text>
<text transform="translate(259.8,562.7) scale(0.9132,1.0)" font-size="12" fill="#000">Jul</text>
<text transform="translate(306.45,562.7) scale(1.0396,1.0)" font-size="12" fill="#000">Oct</text>
<text transform="translate(352.6,562.7) scale(1.1398,1.0)" font-size="12" fill="#000">2017</text>
<text transform="translate(406.95,562.7) scale(1.1297,1.0)" font-size="12" fill="#000">Apr</text>
<text transform="translate(460.8,562.7) scale(0.9132,1.0)" font-size="12" fill="#000">Jul</text>
<text transform="translate(507.45,562.7) scale(1.0396,1.0)" font-size="12" fill="#000">Oct</text>
<text transform="translate(553.6,562.7) scale(1.1398,1.0)" font-size="12" fill="#000">2018</text>
<text transform="translate(607.95,562.7) scale(1.1297,1.0)" font-size="12" fill="#000">Apr</text>
<text transform="translate(661.8,562.7) scale(0.9132,1.0)" font-size="12" fill="#000">Jul</text>
<text transform="translate(708.45,562.7) scale(1.0396,1.0)" font-size="12" fill="#000">Oct</text>
<text transform="translate(758.6,562.7) scale(1.1398,1.0)" font-size="12" fill="#000">2019</text>
<text transform="translate(808.95,562.7) scale(1.1297,1.0)" font-size="12" fill="#000">Apr</text>
<text transform="translate(862.8,562.7) scale(0.9132,1.0)" font-size="12" fill="#000">Jul</text>
<text transform="translate(913.45,562.7) scale(1.0396,1.0)" font-size="12" fill="#000">Oct</text>
<text transform="translate(959.6,562.7) scale(1.1398,1.0)" font-size="12" fill="#000">2020</text>
<text transform="translate(1031.0,48.8) scale(1.076,1.0)" font-size="12" fill="#000">3.5</text>
<text transform="translate(1031.0,134.8) scale(0.9143,1.0)" font-size="12" fill="#000">3</text>
<text transform="translate(1031.0,220.8) scale(1.076,1.0)" font-size="12" fill="#000">2.5</text>
<text transform="translate(1031.0,306.8) scale(0.9143,1.0)" font-size="12" fill="#000">2</text>
<text transform="translate(1031.0,391.8) scale(1.076,1.0)" font-size="12" fill="#000">1.5</text>
<text transform="translate(1031.0,477.8) scale(0.9143,1.0)" font-size="12" fill="#000">1</text>
<text transform="translate(2.1,590) scale(1.0954,1.0)" font-size="15.5" fill="#0000f0">www.fullertreacymoney.com</text>
<text transform="translate(625.3,590) scale(0.9218,1.04)" font-size="13.4" fill="#8c8c8c">This</text>
<text transform="translate(655.22,590) scale(1.0162,1.04)" font-size="13.4" fill="#8c8c8c">website</text>
<text transform="translate(706.2,590) scale(0.792,1.04)" font-size="13.4" fill="#8c8c8c">is</text>
<text transform="translate(721.6,590) scale(0.97,1.04)" font-size="13.4" fill="#8c8c8c">©</text>
<text transform="translate(736.6,590) scale(1.0536,1.04)" font-size="13.4" fill="#8c8c8c">2008-2020</text>
<text transform="translate(808.33,590) scale(0.972,1.04)" font-size="13.4" fill="#8c8c8c">Fuller</text>
<text transform="translate(846.0,590) scale(0.9747,1.04)" font-size="13.4" fill="#8c8c8c">Treacy</text>
<text transform="translate(890.64,590) scale(0.9596,1.04)" font-size="13.4" fill="#8c8c8c">Money</text>
<text transform="translate(935.9,590) scale(0.9594,1.04)" font-size="13.4" fill="#8c8c8c">plc.</text>
<text transform="translate(961.6,590) scale(0.7916,1.04)" font-size="13.4" fill="#8c8c8c">All</text>
<text transform="translate(979.4,590) scale(1.0469,1.04)" font-size="13.4" fill="#8c8c8c">rights</text>
<text transform="translate(1019.4,590) scale(1.0474,1.04)" font-size="13.4" fill="#8c8c8c">reserved</text>
</svg>
</body></html>
